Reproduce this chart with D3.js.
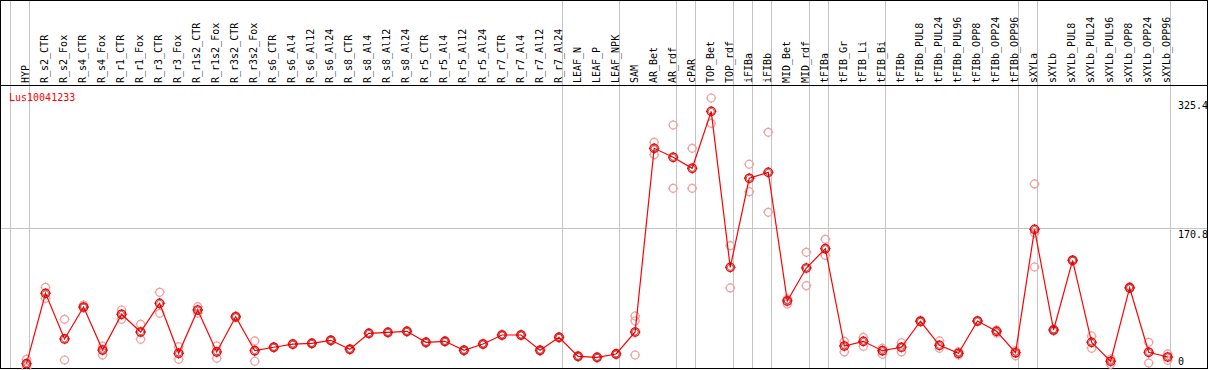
<!DOCTYPE html>
<html>
<head>
<meta charset="utf-8">
<script src="https://cdn.jsdelivr.net/npm/d3@7/dist/d3.min.js"></script>
<style>
    body { margin: 0; background: #fff; }
    text { font-family: "DejaVu Sans Mono", monospace; font-size: 10px; }
</style>
</head>
<body>
<div id="chart"></div>
<script>
const gene_name = "Lus10041233";

const samples = ["HYP", "R_s2_CTR", "R_s2_Fox", "R_s4_CTR", "R_s4_Fox", "R_r1_CTR", "R_r1_Fox",
    "R_r3_CTR", "R_r3_Fox", "R_r1s2_CTR", "R_r1s2_Fox", "R_r3s2_CTR", "R_r3s2_Fox",
    "R_s6_CTR", "R_s6_Al4", "R_s6_Al12", "R_s6_Al24", "R_s8_CTR", "R_s8_Al4", "R_s8_Al12", "R_s8_Al24",
    "R_r5_CTR", "R_r5_Al4", "R_r5_Al12", "R_r5_Al24", "R_r7_CTR", "R_r7_Al4", "R_r7_Al12", "R_r7_Al24",
    "LEAF_N", "LEAF_P", "LEAF_NPK", "SAM", "AR_Bet", "AR_rdf", "cPAR", "TOP_Bet", "TOP_rdf",
    "iFIBa", "iFIBb", "MID_Bet", "MID_rdf", "tFIBa", "tFIB_Gr", "tFIB_Li", "tFIB_Bi",
    "tFIBb", "tFIBb_PUL8", "tFIBb_PUL24", "tFIBb_PUL96", "tFIBb_OPP8", "tFIBb_OPP24", "tFIBb_OPP96",
    "sXYLa", "sXYLb", "sXYLb_PUL8", "sXYLb_PUL24", "sXYLb_PUL96", "sXYLb_OPP8", "sXYLb_OPP24", "sXYLb_OPP96"];

const means = [9.3, 93.2, 38.8, 76.9, 25.6, 68.2, 47.1,
    81.3, 21.7, 73.3, 23.3, 65.3, 24.8,
    28.9, 32.6, 33.6, 37.2, 26.5, 45.5, 46.7, 47.9,
    34.8, 36.0, 25.3, 32.8, 43.5, 43.5, 25.3, 40.8,
    18.1, 16.9, 20.9, 47.1, 266.1, 255.4, 242.3, 310.2, 124.2,
    230.4, 237.5, 84.1, 123.4, 146.4, 30.4, 36.0, 24.8,
    28.9, 59.9, 31.2, 21.7, 60.2, 47.9, 22.4,
    169.5, 49.5, 132.6, 34.8, 12.2, 99.9, 22.9, 17.3];

const replicates = [[14.5, 4.0], [100.4, 87.3], [62.2, 13.7], [79.3, 76.1], [30.4, 19.7], [73.3, 62.2], [56.3, 38.4],
    [94.4, 69.4], [29.6, 14.5], [77.3, 69.4], [30.4, 15.7], [66.2, 64.4], [36.4, 12.2],
    [29.5, 28.3], [33.2, 32.0], [34.1, 33.0], [37.8, 36.6], [27.1, 25.9], [46.0, 45.0], [47.2, 46.2], [48.5, 47.3],
    [35.4, 34.2], [36.6, 35.4], [25.9, 24.7], [33.3, 32.3], [44.1, 42.9], [44.0, 43.0], [25.9, 24.7], [41.4, 40.2],
    [18.7, 17.5], [17.5, 16.3], [21.5, 20.3], [66.2, 60.2, 19.7], [273.3, 258.5], [293.9, 218.4], [266.1, 218.4], [326.1, 295.9], [150.0, 99.6],
    [247.1, 214.4], [285.2, 189.8], [86.4, 80.5], [142.1, 102.3], [157.6, 138.5], [36.0, 23.3], [40.8, 30.0], [27.7, 20.5],
    [34.3, 23.3], [61.0, 59.0], [36.4, 27.7], [23.6, 19.7], [60.5, 60.0], [49.5, 45.9], [24.8, 18.8],
    [223.6, 165.1, 124.6], [50.5, 48.5], [133.0, 132.0], [42.3, 27.7], [14.9, 8.6], [101.0, 99.0], [34.8, 10.1], [20.9, 13.4]];

// first sample of each tissue group; a grey divider is drawn at its left edge
const group_starts = ["HYP", "R_s2_CTR", "LEAF_N", "SAM", "cPAR", "TOP_Bet", "iFIBa", "iFIBb",
    "MID_Bet", "tFIBa", "tFIB_Gr", "tFIBb", "sXYLa", "sXYLb"];

const y_labels = [325.4, 170.8, 0];
const y_grid = [170.8];
const y_top = 341.6;

const W = 1209, H = 370;
const header_bottom = 85.5;

const svg = d3.select("#chart").append("svg")
    .attr("width", W)
    .attr("height", H);

const x = d3.scaleBand()
    .domain(samples)
    .range([10, 10 + samples.length * 19.02])
    .padding(0);

const y = d3.scaleLinear()
    .domain([0, y_top])
    .range([371.5, 85]);

const px = d => x(d) + 16.5;

// vertical group dividers
const dividers = group_starts.map(s => x(s)).concat([x.range()[1]]);
svg.selectAll(".vgrid")
    .data(dividers)
    .enter().append("line")
    .attr("class", "vgrid")
    .attr("x1", d => Math.round(d) + 0.5)
    .attr("x2", d => Math.round(d) + 0.5)
    .attr("y1", 0)
    .attr("y2", 369)
    .attr("stroke", "#c4c4c4")
    .attr("stroke-width", 1);

// horizontal grid
svg.selectAll(".hgrid")
    .data(y_grid)
    .enter().append("line")
    .attr("class", "hgrid")
    .attr("x1", 1)
    .attr("x2", 1207)
    .attr("y1", d => Math.round(y(d)) + 0.5)
    .attr("y2", d => Math.round(y(d)) + 0.5)
    .attr("stroke", "#c4c4c4")
    .attr("stroke-width", 1);

// frame
svg.append("rect")
    .attr("x", 0.5)
    .attr("y", 0.5)
    .attr("width", 1207)
    .attr("height", 368)
    .attr("fill", "none")
    .attr("stroke", "#000")
    .attr("stroke-width", 1);

svg.append("line")
    .attr("x1", 0)
    .attr("x2", 1208)
    .attr("y1", header_bottom)
    .attr("y2", header_bottom)
    .attr("stroke", "#000")
    .attr("stroke-width", 1);

// sample labels, written upward
svg.selectAll(".sample")
    .data(samples)
    .enter().append("text")
    .attr("class", "sample")
    .attr("transform", d => `translate(${x(d) + x.bandwidth()},83) rotate(-90)`)
    .attr("text-anchor", "start")
    .attr("fill", "#000")
    .text(d => d);

// gene name
svg.append("text")
    .attr("x", 9)
    .attr("y", 101)
    .attr("fill", "#ff0000")
    .text(gene_name);

// value labels on the right
svg.selectAll(".ylab")
    .data(y_labels)
    .enter().append("text")
    .attr("class", "ylab")
    .attr("x", 1178)
    .attr("y", d => Math.min(y(d) + 3, 358))
    .attr("dominant-baseline", "hanging")
    .attr("fill", "#000")
    .text(d => d);

function marker(g, r) {
    g.append("circle").attr("r", r);
    g.append("path").attr("d",
        `M0,${-r - 1}V${-r + 0.5}M0,${r - 0.5}V${r + 1}M${-r - 1},0H${-r + 0.5}M${r - 0.5},0H${r + 1}`);
}

// replicate points
const rep_points = [];
samples.forEach((s, i) => replicates[i].forEach(v => rep_points.push({ s: s, v: v })));
svg.selectAll(".rep")
    .data(rep_points)
    .enter().append("g")
    .attr("class", "rep")
    .attr("transform", d => `translate(${px(d.s)},${y(d.v)})`)
    .attr("fill", "none")
    .attr("stroke", "#f0a0a0")
    .attr("stroke-width", 1.2)
    .each(function () { marker(d3.select(this), 4); });

// mean line
const line = d3.line()
    .x((d, i) => px(samples[i]))
    .y(d => y(d));

svg.append("path")
    .datum(means)
    .attr("fill", "none")
    .attr("stroke", "#ff0000")
    .attr("stroke-width", 1.2)
    .attr("d", line);

// mean points
const mean_g = svg.selectAll(".mean")
    .data(means)
    .enter().append("g")
    .attr("class", "mean")
    .attr("transform", (d, i) => `translate(${px(samples[i])},${y(d)})`)
    .attr("fill", "none");

mean_g.each(function () {
    const g = d3.select(this);
    const outer = g.append("g").attr("stroke", "#ff0000").attr("stroke-width", 1.3);
    marker(outer, 4.2);
    g.append("circle")
        .attr("r", 3)
        .attr("stroke", "#600000")
        .attr("stroke-width", 0.6);
});
</script>
</body>
</html>
